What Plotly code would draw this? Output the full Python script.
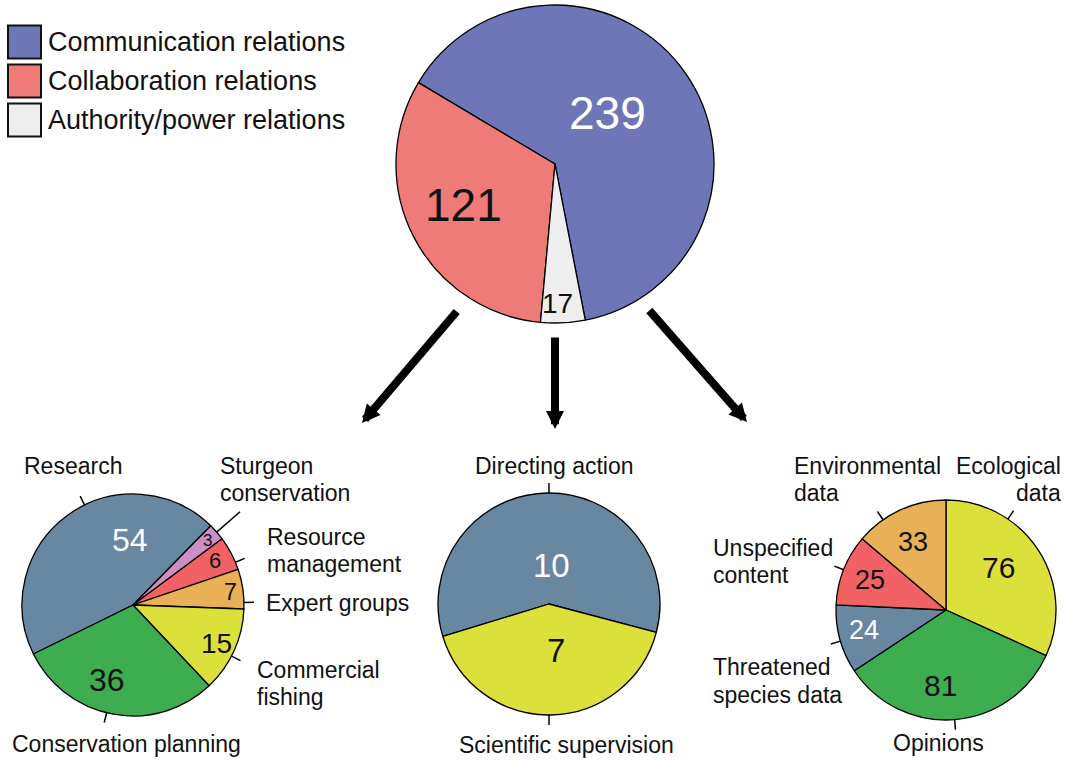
import math
import plotly.graph_objects as go

W, H = 1075, 760

# ---------------- data ----------------
top_labels = ["Communication relations", "Collaboration relations", "Authority/power relations"]
top_values = [239, 121, 17]

collab_labels = ["Research", "Sturgeon conservation", "Resource management",
                 "Expert groups", "Commercial fishing", "Conservation planning"]
collab_values = [54, 3, 6, 7, 15, 36]

auth_labels = ["Directing action", "Scientific supervision"]
auth_values = [10, 7]

comm_labels = ["Ecological data", "Opinions", "Threatened species data",
               "Unspecified content", "Environmental data"]
comm_values = [76, 81, 24, 25, 33]

# ---------------- style ----------------
FONT = "Liberation Sans, Arial, sans-serif"
top_colors = ["#6E76B7", "#EE7B78", "#EEEEEE"]
collab_colors = ["#6888A2", "#CC8FC3", "#F06263", "#E8B057", "#DCE03A", "#3DAD50"]
auth_colors = ["#6888A2", "#DCE03A"]
comm_colors = ["#DCE03A", "#3DAD50", "#6888A2", "#F06263", "#E8B057"]

pies = [
    dict(labels=top_labels, values=top_values, colors=top_colors,
         cx=555, cy=164, r=159, rotation=-59.2, direction="counterclockwise",
         vshift=[-9, 3, 2], vfrac=[0.46, 0.63, 0.88], vsize=[46, 46, 28],
         vcolor=["white", "#111", "#111"], ticks=None),
    dict(labels=collab_labels, values=collab_values, colors=collab_colors,
         cx=133, cy=605, r=111, rotation=-116.2, direction="clockwise",
         vshift=[33, 0, -1, 1, 0, 9], vfrac=[0.59, 0.89, 0.84, 0.89, 0.83, 0.72],
         vsize=[32, 17, 22, 23, 28, 32],
         vcolor=["white", "#111", "#111", "#111", "#111", "#111"],
         ticks=dict(shift=[10, 0, 5, 7, 3, 3.5], length=[10, 31, 10, 10, 10, 10])),
    dict(labels=auth_labels, values=auth_values, colors=auth_colors,
         cx=549, cy=604, r=111, rotation=-107, direction="clockwise",
         vshift=[5, -8], vfrac=[0.35, 0.42], vsize=[33, 33],
         vcolor=["white", "#111"],
         ticks=dict(shift=[1.1, 1.1], length=[10, 10])),
    dict(labels=comm_labels, values=comm_values, colors=comm_colors,
         cx=946, cy=610, r=110, rotation=0, direction="clockwise",
         vshift=[-6, 9, 2, 0, -1], vfrac=[0.61, 0.69, 0.77, 0.74, 0.69],
         vsize=[30, 30, 27, 27, 27],
         vcolor=["#111", "#111", "white", "#111", "#111"],
         ticks=dict(shift=[-23, 0, -1, 0, -10], length=[10, 10, 10, 10, 10])),
]

# outer category labels (one annotation per text line): text, x, y, anchor
outer_labels = [
    ("Research", 22, 466, "left"),
    ("Sturgeon", 218, 466, "left"), ("conservation", 218, 493, "left"),
    ("Resource", 265, 537, "left"), ("management", 265, 564, "left"),
    ("Expert groups", 264, 603, "left"),
    ("Commercial", 255, 670, "left"), ("fishing", 255, 697, "left"),
    ("Conservation planning", 10, 744, "left"),
    ("Directing action", 554, 466, "center"),
    ("Scientific supervision", 566, 745, "center"),
    ("Environmental", 792, 466, "left"), ("data", 792, 493, "left"),
    ("Ecological", 1063, 466, "right"), ("data", 1063, 493, "right"),
    ("Unspecified", 711, 548, "left"), ("content", 711, 575, "left"),
    ("Threatened", 711, 667, "left"), ("species data", 711, 695, "left"),
    ("Opinions", 938, 743, "center"),
]

# arrows: (tail x, tail y, tip x, tip y) in pixels
arrows = [(458, 310, 362, 423), (555, 336, 555, 429), (648, 309, 747, 422)]


def px(x):
    return x / W


def py(y):
    return 1 - y / H


def polar(cx, cy, rho, ang):
    a = math.radians(ang)
    return cx + rho * math.sin(a), cy - rho * math.cos(a)


def mid_angles(values, rotation, direction):
    tot = sum(values)
    spans = [v / tot * 360 for v in values]
    mids = []
    if direction == "clockwise":
        e = rotation
        for s in spans:
            mids.append(e + s / 2)
            e += s
    else:
        e = rotation + spans[0]
        for s in spans:
            mids.append(e - s / 2)
            e -= s
    return mids


fig = go.Figure()
shapes = []
annotations = []

for p in pies:
    cx, cy, r = p["cx"], p["cy"], p["r"]
    fig.add_trace(go.Pie(
        labels=p["labels"], values=p["values"], sort=False,
        direction=p["direction"], rotation=p["rotation"],
        marker=dict(colors=p["colors"], line=dict(color="black", width=1.3)),
        textinfo="none", hoverinfo="label+value",
        domain=dict(x=[px(cx - r), px(cx + r)], y=[py(cy + r), py(cy - r)]),
        showlegend=False,
    ))
    mids = mid_angles(p["values"], p["rotation"], p["direction"])
    for i, v in enumerate(p["values"]):
        x, y = polar(cx, cy, p["vfrac"][i] * r, mids[i] + p["vshift"][i])
        annotations.append(dict(
            text=str(v), x=px(x), y=py(y), xref="paper", yref="paper",
            showarrow=False, xanchor="center", yanchor="middle",
            font=dict(family=FONT, size=p["vsize"][i], color=p["vcolor"][i]),
        ))
    if p["ticks"]:
        for i in range(len(p["values"])):
            ang = mids[i] + p["ticks"]["shift"][i]
            x0, y0 = polar(cx, cy, r, ang)
            x1, y1 = polar(cx, cy, r + p["ticks"]["length"][i], ang)
            shapes.append(dict(type="line", xref="paper", yref="paper",
                               x0=px(x0), y0=py(y0), x1=px(x1), y1=py(y1),
                               line=dict(color="black", width=1.5)))

for text, x, y, anchor in outer_labels:
    annotations.append(dict(
        text=text, x=px(x), y=py(y), xref="paper", yref="paper",
        showarrow=False, xanchor=anchor, yanchor="middle",
        font=dict(family=FONT, size=23, color="#111"),
    ))

# legend (custom swatches + text)
leg_y = [42, 81, 120]
for lab, col, yc in zip(top_labels, top_colors, leg_y):
    shapes.append(dict(type="rect", xref="paper", yref="paper",
                       x0=px(8), x1=px(41), y0=py(yc - 16.5), y1=py(yc + 16.5),
                       fillcolor=col, line=dict(color="#111", width=2)))
    annotations.append(dict(
        text=lab, x=px(46), y=py(yc), xref="paper", yref="paper",
        showarrow=False, xanchor="left", yanchor="middle",
        font=dict(family=FONT, size=27, color="#111"),
    ))

for tx, ty, hx, hy in arrows:
    annotations.append(dict(
        text="", x=px(hx), y=py(hy), xref="paper", yref="paper",
        ax=tx - hx, ay=ty - hy, axref="pixel", ayref="pixel",
        showarrow=True, arrowhead=2, arrowsize=0.45, arrowwidth=8,
        arrowcolor="black", standoff=0,
    ))

fig.update_layout(
    width=W, height=H, margin=dict(l=0, r=0, t=0, b=0),
    paper_bgcolor="white", plot_bgcolor="white",
    showlegend=False, shapes=shapes, annotations=annotations,
    font=dict(family=FONT),
)

fig.write_html("out.html", config={"displayModeBar": False},
               post_script="document.body.style.margin='0';")
